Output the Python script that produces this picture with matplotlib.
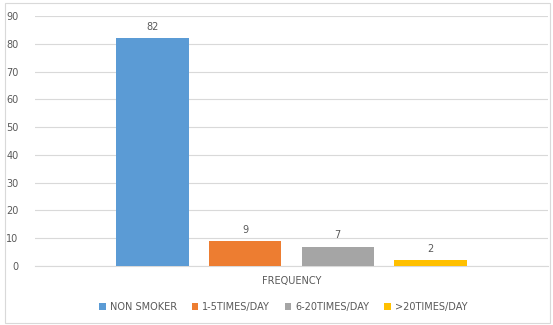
import matplotlib
matplotlib.use("Agg")
import matplotlib.pyplot as plt
from matplotlib.patches import Rectangle, Patch

categories = ["NON SMOKER", "1-5TIMES/DAY", "6-20TIMES/DAY", ">20TIMES/DAY"]
values = [82, 9, 7, 2]
colors = ["#5B9BD5", "#ED7D31", "#A5A5A5", "#FFC000"]
group_label = "FREQUENCY"

txt = "#595959"
fig = plt.figure(figsize=(5.53, 3.25), dpi=100)
ax = fig.add_axes([35/553, 1-266/325, (548-35)/553, (266-16)/325])

xs = range(len(values))
bars = ax.bar(xs, values, width=0.78, color=colors, zorder=3)
for x, v in zip(xs, values):
    ax.text(x, v + 2.2, str(v), ha="center", va="bottom", fontsize=7, color=txt)

ax.set_xlim(-1.27, 4.27)
ax.set_ylim(0, 90)
ax.set_yticks(range(0, 91, 10))
ax.yaxis.grid(True, color="#D9D9D9", linewidth=0.8, zorder=0)
ax.tick_params(axis="y", length=0, labelsize=7, labelcolor=txt, pad=12)
ax.set_xticks([])
for s in ["top", "right", "left"]:
    ax.spines[s].set_visible(False)
ax.spines["bottom"].set_color("#D9D9D9")
ax.spines["bottom"].set_linewidth(0.8)

fig.text((35+548)/2/553, 1-281/325, group_label, ha="center", va="center", fontsize=7, color=txt)

handles = [Patch(facecolor=c, edgecolor="none") for c in colors]
fig.legend(handles, categories, loc="center", bbox_to_anchor=(0.512, 1-307/325), ncol=4,
           frameon=False, fontsize=7, labelcolor=txt, handlelength=0.7, handleheight=0.7,
           handletextpad=0.4, columnspacing=1.5)

fig.patches.append(Rectangle((5/553, 2/325), 545/553, 320/325, transform=fig.transFigure,
                             fill=False, edgecolor="#D9D9D9", linewidth=0.8))

fig.savefig("out.png", dpi=100)
